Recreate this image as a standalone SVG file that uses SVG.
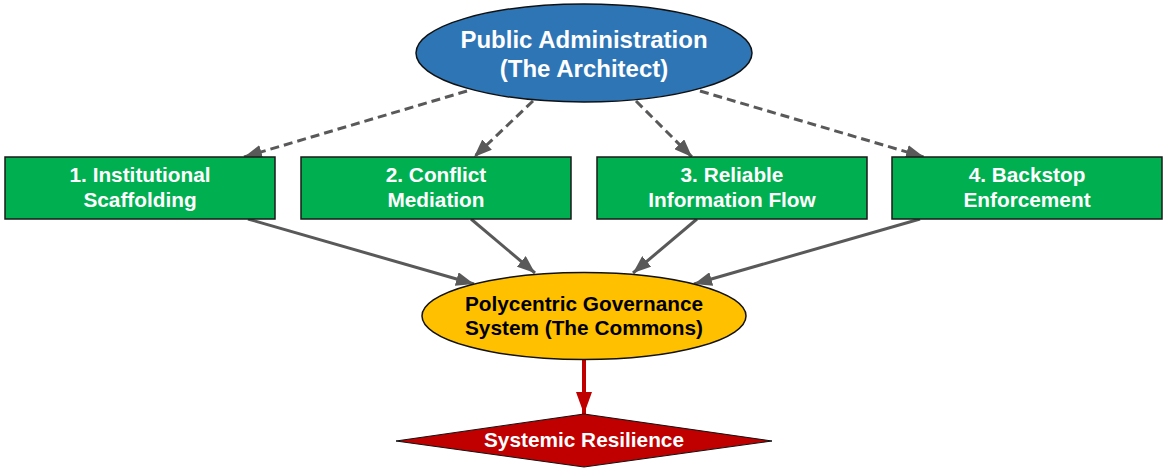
<svg xmlns="http://www.w3.org/2000/svg" width="1168" height="474" viewBox="0 0 1168 474">
<style>
text { font-family: "Liberation Sans", Arial, sans-serif; font-weight: bold; text-anchor: middle; }
.w { fill: #ffffff; }
.k { fill: #000000; }
.box { fill: #00b050; stroke: #1a1a1a; stroke-width: 1.5; }
.dash { fill: none; stroke: #595959; stroke-width: 3; stroke-dasharray: 9 5; marker-end: url(#ag); }
.solid { fill: none; stroke: #595959; stroke-width: 3; marker-end: url(#ag); }
.red { fill: none; stroke: #c00000; stroke-width: 4; marker-end: url(#ar); }
</style>
<defs>
<marker id="ag" markerUnits="userSpaceOnUse" markerWidth="18" markerHeight="14" refX="18" refY="7" orient="auto">
<path d="M0,0 L18,7 L0,14 z" fill="#595959"/>
</marker>
<marker id="ar" markerUnits="userSpaceOnUse" markerWidth="22" markerHeight="16" refX="22" refY="8" orient="auto">
<path d="M0,0 L22,8 L0,16 z" fill="#c00000"/>
</marker>
</defs>
<rect width="1168" height="474" fill="#ffffff"/>
<g id="connectors">
<line class="dash" x1="467" y1="91" x2="244" y2="157"/>
<line class="dash" x1="533" y1="101" x2="474" y2="157"/>
<line class="dash" x1="636" y1="101" x2="692" y2="157"/>
<line class="dash" x1="700" y1="91" x2="924" y2="157"/>
<line class="solid" x1="248" y1="219" x2="474" y2="284"/>
<line class="solid" x1="471" y1="219" x2="535" y2="273"/>
<line class="solid" x1="697" y1="219" x2="633" y2="273"/>
<line class="solid" x1="920" y1="219" x2="694" y2="284"/>
<line class="red" x1="584" y1="360" x2="584" y2="414"/>
</g>
<g id="admin">
<ellipse cx="584" cy="53" rx="168" ry="49" fill="#2e75b6" stroke="#111" stroke-width="1.5"/>
<text class="w" x="584" y="48" font-size="24">Public Administration</text>
<text class="w" x="584" y="77" font-size="24">(The Architect)</text>
</g>
<g id="n1">
<rect class="box" x="5" y="157" width="270" height="62"/>
<text class="w" x="140" y="182" font-size="20.8">1. Institutional</text>
<text class="w" x="140" y="207" font-size="20.8">Scaffolding</text>
</g>
<g id="n2">
<rect class="box" x="301" y="157" width="270" height="62"/>
<text class="w" x="436" y="182" font-size="20.8">2. Conflict</text>
<text class="w" x="436" y="207" font-size="20.8">Mediation</text>
</g>
<g id="n3">
<rect class="box" x="597" y="157" width="270" height="62"/>
<text class="w" x="732" y="182" font-size="20.8">3. Reliable</text>
<text class="w" x="732" y="207" font-size="20.8">Information Flow</text>
</g>
<g id="n4">
<rect class="box" x="892" y="157" width="270" height="62"/>
<text class="w" x="1027" y="182" font-size="20.8">4. Backstop</text>
<text class="w" x="1027" y="207" font-size="20.8">Enforcement</text>
</g>
<g id="commons">
<ellipse cx="584" cy="316" rx="162" ry="43.5" fill="#ffc000" stroke="#111" stroke-width="1.5"/>
<text class="k" x="584" y="311" font-size="20.8">Polycentric Governance</text>
<text class="k" x="584" y="335" font-size="20.8">System (The Commons)</text>
</g>
<g id="resilience">
<polygon points="584,414 772,441 584,467 396,441" fill="#c00000" stroke="#111" stroke-width="1"/>
<text class="w" x="584" y="447" font-size="20.8">Systemic Resilience</text>
</g>
</svg>
